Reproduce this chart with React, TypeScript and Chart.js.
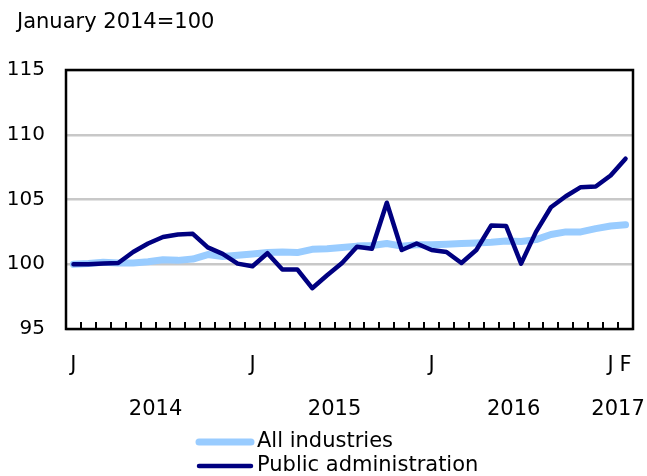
import React, { useEffect, useRef } from "react";
import { Chart, registerables } from "chart.js";

Chart.register(...registerables);

const monthNames = ["Jan","Feb","Mar","Apr","May","Jun","Jul","Aug","Sep","Oct","Nov","Dec"];
const categories: string[] = [];
for (let y = 2014; y <= 2017; y++) {
  for (let m = 0; m < 12; m++) {
    if (y === 2017 && m > 1) break;
    categories.push(`${monthNames[m]} ${y}`);
  }
}

const allIndustries = [
  100.0, 100.05, 100.15, 100.1, 100.1, 100.2, 100.35, 100.3, 100.4, 100.75, 100.6, 100.7,
  100.8, 100.9, 100.95, 100.9, 101.15, 101.2, 101.3, 101.4, 101.45, 101.6, 101.4, 101.5,
  101.5, 101.55, 101.6, 101.65, 101.7, 101.8, 101.75, 101.9, 102.3, 102.5, 102.5, 102.75,
  102.95, 103.05,
];

const publicAdmin = [
  100.0, 100.0, 100.05, 100.1, 100.95, 101.6, 102.1, 102.3, 102.35, 101.3, 100.8, 100.05,
  99.85, 100.85, 99.6, 99.6, 98.15, 99.15, 100.1, 101.35, 101.2, 104.75, 101.1, 101.6,
  101.1, 100.95, 100.1, 101.1, 103.0, 102.95, 100.05, 102.5, 104.4, 105.25, 105.95, 106.0,
  106.85, 108.15,
];

const monthTickLabels: Record<number, string> = { 0: "J", 12: "J", 24: "J", 36: "J", 37: "F" };
const yearLabels = ["2014", "2015", "2016", "2017"];
const yearCenters = [5.5, 17.5, 29.5, 36.5];
const seriesNames = ["All industries", "Public administration"];
const seriesColors = ["#99CCFF", "#000080"];
const titleText = "January 2014=100";

const FONT = "'DejaVu Sans', Verdana, sans-serif";

const decorPlugin = {
  id: "decor",
  afterDatasetsDraw(chart: any) {
    const ctx = chart.ctx;
    const ca = chart.chartArea;
    const xs = chart.scales.x;
    ctx.save();
    // inward tick marks
    ctx.strokeStyle = "#000";
    ctx.lineWidth = 2;
    for (let i = 0; i < categories.length - 1; i++) {
      const px = Math.round(xs.getPixelForValue(i + 0.5));
      ctx.beginPath();
      ctx.moveTo(px, ca.bottom);
      ctx.lineTo(px, ca.bottom - 7);
      ctx.stroke();
    }
    // frame
    ctx.lineWidth = 2.5;
    ctx.strokeRect(ca.left, ca.top, ca.right - ca.left, ca.bottom - ca.top);
    ctx.restore();
  },
  afterDraw(chart: any) {
    const ctx = chart.ctx;
    ctx.save();
    ctx.fillStyle = "#000";
    ctx.font = `21px ${FONT}`;
    ctx.textBaseline = "alphabetic";
    ctx.textAlign = "left";
    ctx.fillText(titleText, 17, 28);
    // legend
    const rows = [442, 466];
    const widths = [7, 4.5];
    ctx.lineCap = "round";
    for (let i = 0; i < seriesNames.length; i++) {
      ctx.strokeStyle = seriesColors[i];
      ctx.lineWidth = widths[i];
      ctx.beginPath();
      ctx.moveTo(199, rows[i]);
      ctx.lineTo(251, rows[i]);
      ctx.stroke();
      ctx.textBaseline = "middle";
      ctx.fillText(seriesNames[i], 257, rows[i]);
    }
    ctx.restore();
  },
};

export default function App() {
  const ref = useRef<HTMLCanvasElement | null>(null);
  useEffect(() => {
    if (!ref.current) return;
    const chart = new Chart(ref.current, {
      type: "line",
      data: {
        labels: categories,
        datasets: [
          {
            label: seriesNames[1],
            data: publicAdmin,
            borderColor: seriesColors[1],
            borderWidth: 4.5,
            pointRadius: 0,
            tension: 0,
            borderJoinStyle: "round",
            borderCapStyle: "round",
            order: 0,
          },
          {
            label: seriesNames[0],
            data: allIndustries,
            borderColor: seriesColors[0],
            borderWidth: 7,
            pointRadius: 0,
            tension: 0,
            borderJoinStyle: "round",
            borderCapStyle: "round",
            order: 1,
          },
        ],
      },
      options: {
        animation: false,
        responsive: true,
        maintainAspectRatio: false,
        layout: { padding: { top: 70, left: 0, right: 14, bottom: 51 } },
        plugins: { legend: { display: false }, tooltip: { enabled: false }, title: { display: false } },
        scales: {
          x: {
            type: "category",
            offset: true,
            weight: 0,
            grid: { display: false, drawTicks: false },
            border: { display: false },
            ticks: {
              autoSkip: false,
              maxRotation: 0,
              minRotation: 0,
              padding: 24,
              color: "#000",
              font: { family: FONT, size: 21 },
              callback: (_v: any, i: number) => monthTickLabels[i] ?? "",
            },
            afterFit: (s: any) => {
              s.height = 48;
              s.paddingLeft = 0;
              s.paddingRight = 0;
            },
          },
          x2: {
            type: "linear",
            position: "bottom",
            weight: 1,
            min: -0.5,
            max: categories.length - 0.5,
            grid: { display: false, drawTicks: false },
            border: { display: false },
            afterBuildTicks: (s: any) => {
              s.ticks = yearCenters.map((v) => ({ value: v }));
            },
            ticks: {
              autoSkip: false,
              maxRotation: 0,
              minRotation: 0,
              padding: 20,
              color: "#000",
              font: { family: FONT, size: 21 },
              callback: (v: any) => {
                const k = yearCenters.indexOf(Number(v));
                return k >= 0 ? yearLabels[k] : "";
              },
            },
            afterFit: (s: any) => {
              s.height = 48;
              s.paddingLeft = 0;
              s.paddingRight = 0;
            },
          },
          y: {
            min: 95,
            max: 115,
            ticks: {
              stepSize: 5,
              padding: 21,
              color: "#000",
              font: { family: FONT, size: 20 },
            },
            grid: { color: "#C8C8C8", lineWidth: 2.5, drawTicks: false },
            border: { display: false },
            afterFit: (s: any) => {
              s.width = 66;
            },
          },
        },
      },
      plugins: [decorPlugin],
    });
    return () => chart.destroy();
  }, []);
  return (
    <div style={{ position: "absolute", left: 0, top: 0, width: 647, height: 476 }}>
      <canvas ref={ref} />
    </div>
  );
}
